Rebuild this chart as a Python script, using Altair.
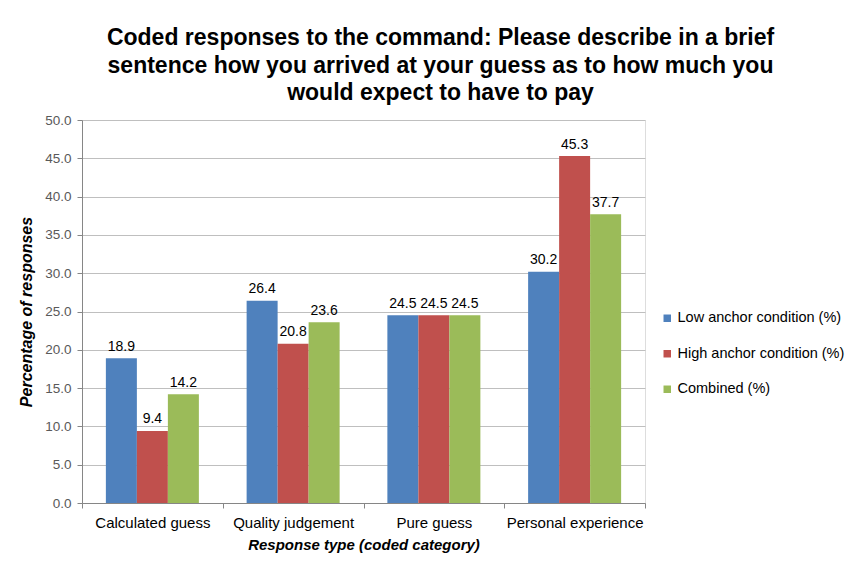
import altair as alt
import pandas as pd

categories = ["Calculated guess", "Quality judgement", "Pure guess", "Personal experience"]
series = ["Low anchor condition (%)", "High anchor condition (%)", "Combined (%)"]
low = [18.9, 26.4, 24.5, 30.2]
high = [9.4, 20.8, 24.5, 45.3]
combined = [14.2, 23.6, 24.5, 37.7]
colors = ["#4F81BD", "#C0504D", "#9BBB59"]

rows = []
for s, vals in zip(series, [low, high, combined]):
    for c, v in zip(categories, vals):
        rows.append({"category": c, "series": s, "value": v})
df = pd.DataFrame(rows)

FONT = "Liberation Sans"

x = alt.X("category:N", sort=categories, scale=alt.Scale(paddingInner=0, paddingOuter=0),
          axis=alt.Axis(title="Response type (coded category)", labelAngle=0, tickBand="extent",
                        labelFontSize=15, labelColor="#000000", labelFont=FONT, labelPadding=7,
                        titleFontSize=15, titleFont=FONT, titleFontStyle="italic", titleFontWeight="bold",
                        titlePadding=7, domainColor="#868686", tickColor="#868686", tickSize=5, grid=False))
xo = alt.XOffset("series:N", sort=series, scale=alt.Scale(paddingOuter=0.77, paddingInner=0))
y = alt.Y("value:Q", scale=alt.Scale(domain=[0, 50]),
          axis=alt.Axis(title="Percentage of responses", values=list(range(0, 51, 5)), format=".1f",
                        labelFontSize=13.5, labelColor="#595959", labelFont=FONT, labelPadding=6,
                        titleFontSize=16, titleFont=FONT, titleFontStyle="italic", titleFontWeight="bold",
                        titlePadding=10, domainColor="#868686", tickColor="#868686", tickSize=5,
                        gridColor="#BFBFBF"))
color = alt.Color("series:N", sort=series, scale=alt.Scale(domain=series, range=colors),
                  legend=alt.Legend(title=None, orient="none", legendX=578, legendY=191,
                                    symbolType="square", symbolSize=56, symbolStrokeWidth=0,
                                    labelFontSize=14.5, labelFont=FONT, labelColor="#000000",
                                    labelLimit=0, rowPadding=20.5, labelOffset=3))

base = alt.Chart(df).encode(x=x, xOffset=xo, y=y)
bars = base.mark_bar(stroke=None).encode(color=color)
labels = base.mark_text(dy=-7.5, baseline="alphabetic", fontSize=14, font=FONT, color="#000000").encode(
    text=alt.Text("value:Q", format=".1f"))

chart = (bars + labels).properties(
    width=563, height=383,
    title=alt.TitleParams(
        text=["Coded responses to the command: Please describe in a brief",
              "sentence how you arrived at your guess as to how much you",
              "would expect to have to pay"],
        fontSize=23, font=FONT, fontWeight="bold", color="#000000",
        anchor="middle", dx=77, lineHeight=27.5, offset=8),
    autosize=alt.AutoSizeParams(type="none"),
    padding={"left": 74, "top": 112, "right": 202, "bottom": 52},
).configure_view(stroke=None).configure(background="#FFFFFF")

chart.save("out.html", embed_options={"renderer": "svg", "actions": False})
